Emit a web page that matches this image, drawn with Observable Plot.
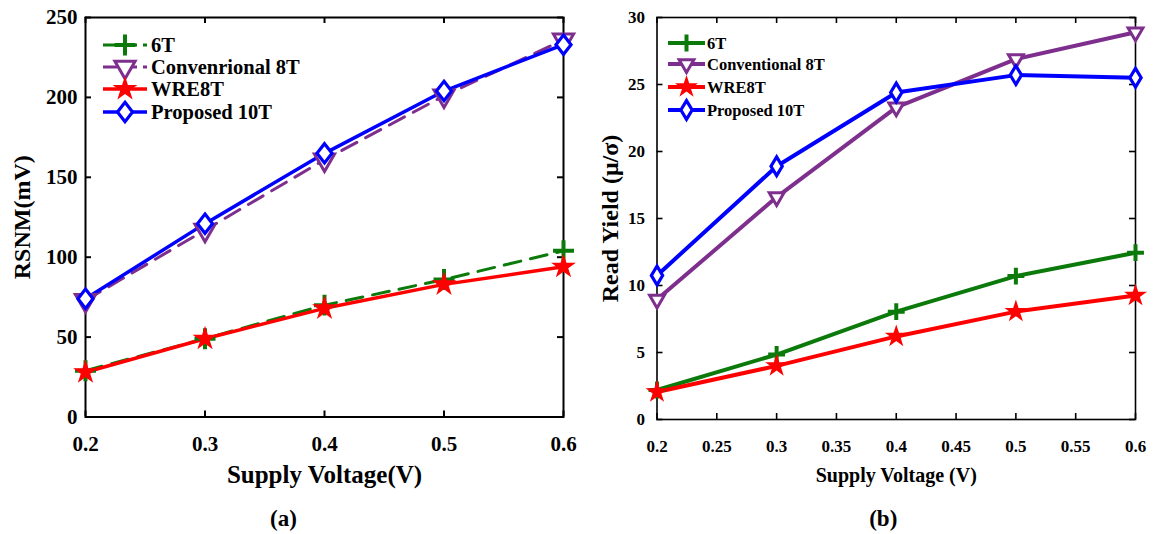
<!DOCTYPE html>
<html><head><meta charset="utf-8">
<script src="https://cdn.jsdelivr.net/npm/d3@7"></script>
<script src="https://cdn.jsdelivr.net/npm/@observablehq/plot@0.6"></script>
<style>
html,body{margin:0;padding:0;background:#fff;}
#wrap{position:relative;width:1153px;height:534px;overflow:hidden;background:#fff;}
#left{position:absolute;left:0;top:0;}
#right{position:absolute;left:600px;top:0;}
svg{overflow:visible;}
</style></head><body>
<div id="wrap"><div id="left"></div><div id="right"></div></div>
<script>
// ---- data ----
const voltage = [0.2, 0.3, 0.4, 0.5, 0.6];
const namesA = ["6T", "Convenrional 8T", "WRE8T", "Proposed 10T"];
const namesB = ["6T", "Conventional 8T", "WRE8T", "Proposed 10T"];
const rsnm6T = [29, 49, 70, 86, 104];
const rsnmConv8T = [73, 117, 161, 201, 236];
const rsnmWRE8T = [28, 49, 68, 83, 94];
const rsnmProp10T = [74, 121, 165, 204, 233];
const yield6T = [2.2, 4.85, 8.05, 10.7, 12.45];
const yieldConv8T = [8.95, 16.6, 23.3, 26.9, 28.9];
const yieldWRE8T = [2.05, 4.0, 6.2, 8.05, 9.25];
const yieldProp10T = [10.75, 18.9, 24.4, 25.7, 25.5];
const xTicksA = [0.2, 0.3, 0.4, 0.5, 0.6];
const yTicksA = [0, 50, 100, 150, 200, 250];
const xTicksB = [0.2, 0.25, 0.3, 0.35, 0.4, 0.45, 0.5, 0.55, 0.6];
const yTicksB = [0, 5, 10, 15, 20, 25, 30];
const xLabelA = "Supply Voltage(V)";
const yLabelA = "RSNM(mV)";
const xLabelB = "Supply Voltage (V)";
const yLabelB = "Read Yield (\u03bc/\u03c3)";
const captionA = "(a)";
const captionB = "(b)";

// ---- styles ----
const FONT = "'Liberation Serif', 'Times New Roman', serif";
const colors = ["#0b7a0b", "#7e2f8e", "#ff0000", "#0000ff"];

function diamondSym(ratio) {
  return {draw(ctx, size) {
    const h = Math.sqrt(size / (2 * ratio)), w = h * ratio;
    ctx.moveTo(0, -h); ctx.lineTo(w, 0); ctx.lineTo(0, h); ctx.lineTo(-w, 0); ctx.closePath();
  }};
}

function makePanel(cfg) {
  const {el, width, height, mL, mR, mT, mB, xDomain, yDomain, xTicks, yTicks, series, names,
         styles, tickFont, tickPadX, tickPadY, xLabel, yLabel, caption, labelFontX, labelFontY,
         xLabelDy, yLabelDx, captionDx, captionDy, legend, frameW} = cfg;
  const fw = width - mL - mR, fh = height - mT - mB;
  const tl = 6;
  const marks = [
    Plot.tickX(xTicks, {x: d => d, stroke: "black", strokeWidth: frameW, insetTop: fh - tl}),
    Plot.tickX(xTicks, {x: d => d, stroke: "black", strokeWidth: frameW, insetBottom: fh - tl}),
    Plot.tickY(yTicks, {y: d => d, stroke: "black", strokeWidth: frameW, insetRight: fw - tl}),
    Plot.tickY(yTicks, {y: d => d, stroke: "black", strokeWidth: frameW, insetLeft: fw - tl}),
    Plot.frame({stroke: "black", strokeWidth: frameW}),
    Plot.axisX({ticks: xTicks, tickSize: 0, tickPadding: tickPadX, label: null, fontSize: tickFont, fontWeight: "bold", fill: "black", tickFormat: d => String(d)}),
    Plot.axisY({ticks: yTicks, tickSize: 0, tickPadding: tickPadY, label: null, fontSize: tickFont, fontWeight: "bold", fill: "black", tickFormat: d => String(d)})
  ];
  series.forEach((vals, i) => {
    const rows = voltage.map((v, j) => ({x: v, y: vals[j]}));
    const s = styles[i];
    marks.push(Plot.line(rows, {x: "x", y: "y", stroke: colors[i], strokeWidth: s.lw, strokeDasharray: s.dash || null}));
  });
  series.forEach((vals, i) => {
    const rows = voltage.map((v, j) => ({x: v, y: vals[j]}));
    const s = styles[i];
    marks.push(Plot.dot(rows, {x: "x", y: "y", symbol: s.symbol, r: s.r, fill: s.fill, stroke: s.stroke, strokeWidth: s.sw, rotate: s.rotate || 0}));
  });
  marks.push(
    Plot.text([xLabel], {text: d => d, frameAnchor: "bottom", dy: xLabelDy, fontSize: labelFontX, fontWeight: "bold", lineAnchor: "middle", fill: "black"}),
    Plot.text([yLabel], {text: d => d, frameAnchor: "left", dx: yLabelDx, rotate: -90, fontSize: labelFontY, fontWeight: "bold", lineAnchor: "middle", textAnchor: "middle", fill: "black"}),
    Plot.text([caption], {text: d => d, frameAnchor: "bottom", dx: captionDx, dy: captionDy, fontSize: 23, fontWeight: "bold", lineAnchor: "middle", fill: "black"})
  );
  const svg = Plot.plot({
    width, height, marginLeft: mL, marginRight: mR, marginTop: mT, marginBottom: mB,
    style: {fontFamily: FONT, fontWeight: "bold", background: "white", color: "black", overflow: "visible"},
    x: {domain: xDomain, axis: null},
    y: {domain: yDomain, axis: null},
    marks
  });
  // legend
  const g = d3.select(svg).append("g").attr("font-family", FONT).attr("font-weight", "bold")
    .attr("font-size", legend.font).attr("text-anchor", "start");
  names.forEach((name, i) => {
    const s = styles[i];
    const y = legend.rows[i];
    g.append("line").attr("x1", legend.x1).attr("x2", legend.x2).attr("y1", y).attr("y2", y)
      .attr("stroke", colors[i]).attr("stroke-width", s.lw).attr("stroke-dasharray", s.legendDash || null);
    let type = s.symbol;
    if (typeof type === "string") type = {plus: d3.symbolPlus, star: d3.symbolStar, triangle: d3.symbolTriangle, diamond: d3.symbolDiamond}[type];
    const mx = (legend.x1 + legend.x2) / 2;
    g.append("path").attr("d", d3.symbol(type, Math.PI * s.r * s.r)())
      .attr("transform", `translate(${mx},${y}) rotate(${s.rotate || 0})`)
      .attr("fill", s.fill).attr("stroke", s.stroke).attr("stroke-width", s.sw);
    g.append("text").attr("x", legend.tx).attr("y", y).attr("dy", "0.35em")
      .attr("text-anchor", "start").attr("fill", "black").text(name);
  });
  document.getElementById(el).appendChild(svg);
}

makePanel({
  el: "left", width: 600, height: 534, mL: 85, mR: 37, mT: 17, mB: 117.5, frameW: 2,
  xDomain: [0.2, 0.6], yDomain: [0, 250], xTicks: xTicksA, yTicks: yTicksA,
  series: [rsnm6T, rsnmConv8T, rsnmWRE8T, rsnmProp10T], names: namesA,
  styles: [
    {lw: 3, dash: "17,10", legendDash: "14,6", symbol: "plus", r: 6.8, fill: "none", stroke: colors[0], sw: 4},
    {lw: 3, dash: "17,10", legendDash: "14,6", symbol: "triangle", r: 7.5, fill: "white", stroke: colors[1], sw: 3, rotate: 180},
    {lw: 3.5, symbol: "star", r: 7.8, fill: colors[2], stroke: "none", sw: 0},
    {lw: 3.5, symbol: diamondSym(0.78), r: 6.8, fill: "white", stroke: colors[3], sw: 3.2}
  ],
  tickFont: 21, tickPadX: 19.5, tickPadY: 8,
  xLabel: xLabelA, yLabel: yLabelA, caption: captionA, labelFontX: 25, labelFontY: 24,
  xLabelDy: 57.5, yLabelDx: -63, captionDx: -41, captionDy: 101.5,
  legend: {x1: 103, x2: 147, tx: 151, rows: [45, 67, 89, 112], font: 20.5}
});

makePanel({
  el: "right", width: 553, height: 534, mL: 56.5, mR: 18, mT: 17, mB: 115, frameW: 1.6,
  xDomain: [0.2, 0.6], yDomain: [0, 30], xTicks: xTicksB, yTicks: yTicksB,
  series: [yield6T, yieldConv8T, yieldWRE8T, yieldProp10T], names: namesB,
  styles: [
    {lw: 4, symbol: "plus", r: 5.5, fill: "none", stroke: colors[0], sw: 4},
    {lw: 4, symbol: "triangle", r: 5.5, fill: "white", stroke: colors[1], sw: 3, rotate: 180},
    {lw: 4, symbol: "star", r: 7.2, fill: colors[2], stroke: "none", sw: 0},
    {lw: 4, symbol: diamondSym(0.6), r: 5.8, fill: "white", stroke: colors[3], sw: 3.2}
  ],
  tickFont: 17, tickPadX: 20, tickPadY: 12,
  xLabel: xLabelB, yLabel: yLabelB, caption: captionB, labelFontX: 20, labelFontY: 24,
  xLabelDy: 56, yLabelDx: -46.5, captionDx: -13, captionDy: 99,
  legend: {x1: 668 - 600, x2: 705 - 600, tx: 107, rows: [43, 64, 87, 110], font: 16.5}
});
</script>
</body></html>
